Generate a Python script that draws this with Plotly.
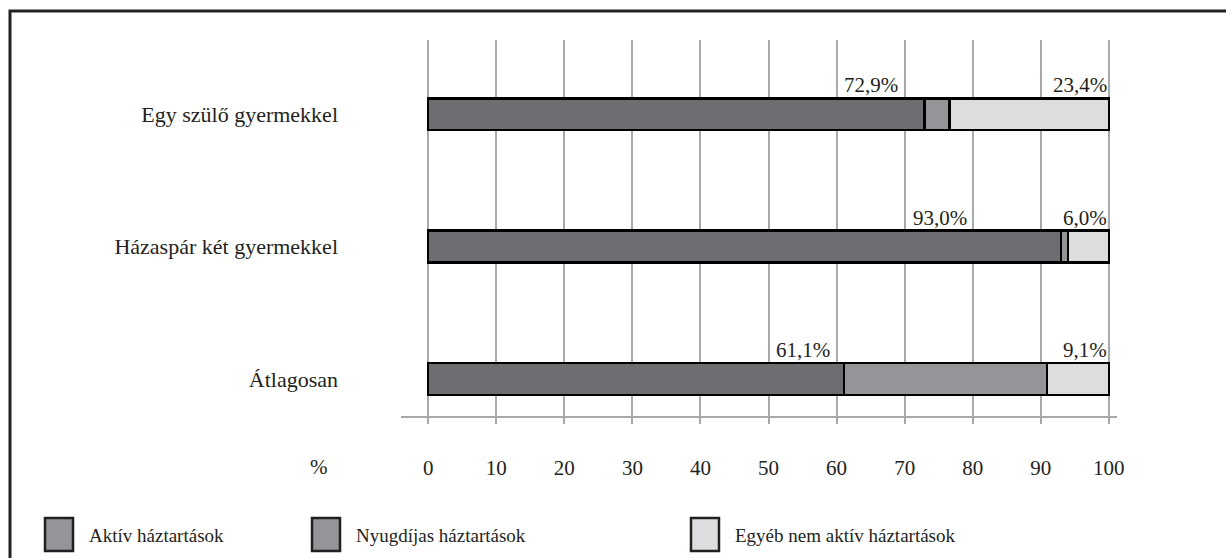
import plotly.graph_objects as go

categories = ["Átlagosan", "Házaspár két gyermekkel", "Egy szülő gyermekkel"]
aktiv = [61.1, 93.0, 72.9]
nyugdijas = [29.8, 1.0, 3.7]
egyeb = [9.1, 6.0, 23.4]
x_ticks = [0, 10, 20, 30, 40, 50, 60, 70, 80, 90, 100]
series_names = ["Aktív háztartások", "Nyugdíjas háztartások", "Egyéb nem aktív háztartások"]

dark = "#6d6e71"
mid = "#939598"
light = "#dcdddf"
ink = "#231f20"
grid = "#a7a9ac"
font = "Liberation Serif"
fs = 21

# plot area in pixels (for paper-coordinate helpers)
L, R, T, B = 401, 109, 40, 142
W, H = 1226, 558
pw, ph = W - L - R, H - T - B

def px(x):
    return (x - L) / pw

def py(y):
    return (H - B - y) / ph

fig = go.Figure()
for vals, col, nm in zip([aktiv, nyugdijas, egyeb], [dark, mid, light], series_names):
    fig.add_trace(go.Bar(
        y=categories, x=vals, orientation="h", name=nm, showlegend=False,
        marker=dict(color=col, line=dict(color="black", width=2.5)),
        width=0.24, hoverinfo="x+y",
    ))

def fmt(v):
    return f"{v:.1f}".replace(".", ",") + "%"

# value labels (aktív share left, egyéb share right-aligned at bar end)
aktiv_label_x = [59.3, 79.4, 69.3]
for cat, v, lx in zip(categories, aktiv, aktiv_label_x):
    fig.add_annotation(x=lx, y=cat, text=fmt(v), showarrow=False, xanchor="right",
                       yanchor="bottom", yshift=15, font=dict(size=fs, color=ink, family=font))
for cat, v in zip(categories, egyeb):
    fig.add_annotation(x=100, y=cat, text=fmt(v), showarrow=False, xanchor="right",
                       yanchor="bottom", yshift=15, font=dict(size=fs, color=ink, family=font))

fig.add_annotation(x=px(308), y=py(467), xref="paper", yref="paper", text="%", showarrow=False,
                   yanchor="middle", font=dict(size=fs, color=ink, family=font))

# legend drawn by hand (big squares like the original)
legend_sq = [45, 312, 691]
legend_cols = [mid, mid, light]
for sx, col, nm in zip(legend_sq, legend_cols, series_names):
    fig.add_shape(type="rect", xref="paper", yref="paper",
                  x0=px(sx), x1=px(sx + 28), y0=py(551), y1=py(518),
                  fillcolor=col, line=dict(color=ink, width=2.5))
    fig.add_annotation(x=px(sx + 42), y=py(535), xref="paper", yref="paper", text=nm,
                       showarrow=False, xanchor="left", yanchor="middle",
                       font=dict(size=19, color=ink, family=font))

# outer frame (only top and left visible)
fig.add_shape(type="rect", xref="paper", yref="paper",
              x0=px(10), x1=px(1240), y0=py(575), y1=py(11),
              line=dict(color=ink, width=3), fillcolor="rgba(0,0,0,0)", layer="below")

fig.update_layout(
    barmode="stack", width=W, height=H,
    margin=dict(l=L, r=R, t=T, b=B),
    plot_bgcolor="white", paper_bgcolor="white",
    font=dict(family=font, color=ink, size=fs),
    xaxis=dict(range=[-4, 101.2], tickvals=x_ticks, showgrid=True, gridcolor=grid, gridwidth=2,
               zeroline=False, showline=True, linecolor=grid, linewidth=2,
               ticks="outside", ticklen=6, tickwidth=2, tickcolor=grid,
               ticklabelstandoff=26, tickfont=dict(size=fs, color=ink)),
    yaxis=dict(range=[-0.28, 2.56], showgrid=False, zeroline=False, showline=False,
               ticks="", ticklabelstandoff=62, tickfont=dict(size=22, color=ink)),
    showlegend=False,
)

fig.write_html("out.html", config={"displayModeBar": False},
               post_script="document.body.style.margin='0';document.body.style.overflow='hidden';")
